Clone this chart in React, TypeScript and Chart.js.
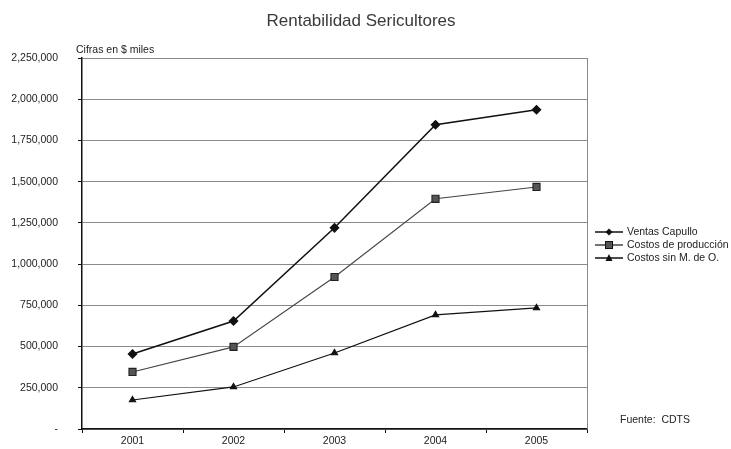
import React, { useEffect, useRef } from "react";
import { Chart, registerables } from "chart.js";

Chart.register(...registerables);

const years = ["2001", "2002", "2003", "2004", "2005"];
const ventasCapullo = [455000, 655000, 1220000, 1845000, 1936000];
const costosProduccion = [346000, 498000, 922000, 1396000, 1468000];
const costosSinMO = [176000, 255000, 461000, 692000, 734000];
const seriesNames = ["Ventas Capullo", "Costos de producción", "Costos sin M. de O."];
const titleText = "Rentabilidad Sericultores";
const unitText = "Cifras en $ miles";
const sourceText = "Fuente:  CDTS";

const FONT = "'Liberation Sans', Arial, sans-serif";

export default function App() {
  const ref = useRef<HTMLCanvasElement | null>(null);

  useEffect(() => {
    document.body.style.margin = "0";
    const canvas = ref.current!;
    const textPlugin = {
      id: "texts",
      afterDraw(chart: any) {
        const ctx = chart.ctx as CanvasRenderingContext2D;
        const area = chart.chartArea;
        ctx.save();
        ctx.fillStyle = "#3a3a3a";
        ctx.font = `17px ${FONT}`;
        ctx.textAlign = "center";
        ctx.textBaseline = "middle";
        ctx.fillText(titleText, 361, 21);
        ctx.font = `10.5px ${FONT}`;
        ctx.textAlign = "left";
        ctx.textBaseline = "alphabetic";
        ctx.fillStyle = "#222";
        ctx.fillText(unitText, area.left - 6, area.top - 5);
        ctx.textBaseline = "middle";
        ctx.font = `10.5px ${FONT}`;
        ctx.fillText(sourceText, 620, 420);
        ctx.strokeStyle = "#888";
        ctx.lineWidth = 1;
        ctx.beginPath();
        ctx.moveTo(area.right + 0.5, area.top);
        ctx.lineTo(area.right + 0.5, area.bottom);
        ctx.stroke();
        const items = chart.data.datasets;
        items.forEach((ds: any, i: number) => {
          const y = 232 + i * 13;
          ctx.strokeStyle = ds.borderColor;
          ctx.lineWidth = 1.5;
          ctx.beginPath();
          ctx.moveTo(595, y);
          ctx.lineTo(623, y);
          ctx.stroke();
          ctx.fillStyle = ds.pointBackgroundColor;
          ctx.strokeStyle = "#111";
          ctx.lineWidth = 1;
          const cx = 609;
          if (ds.pointStyle === "rectRot") {
            ctx.beginPath();
            ctx.moveTo(cx, y - 3.5);
            ctx.lineTo(cx + 3.5, y);
            ctx.lineTo(cx, y + 3.5);
            ctx.lineTo(cx - 3.5, y);
            ctx.closePath();
            ctx.fill();
          } else if (ds.pointStyle === "rect") {
            ctx.fillRect(cx - 3.5, y - 3.5, 7, 7);
            ctx.strokeRect(cx - 3.5, y - 3.5, 7, 7);
          } else {
            ctx.beginPath();
            ctx.moveTo(cx, y - 4);
            ctx.lineTo(cx + 3.5, y + 3);
            ctx.lineTo(cx - 3.5, y + 3);
            ctx.closePath();
            ctx.fill();
          }
          ctx.fillStyle = "#222";
          ctx.font = `10.5px ${FONT}`;
          ctx.textAlign = "left";
          ctx.textBaseline = "middle";
          ctx.fillText(seriesNames[i], 627, y + 0.5);
        });
        ctx.restore();
      },
    };

    const chart = new Chart(canvas, {
      type: "line",
      data: {
        labels: years,
        datasets: [
          {
            label: seriesNames[0],
            data: ventasCapullo,
            borderColor: "#111",
            borderWidth: 1.5,
            pointStyle: "rectRot",
            pointRadius: 4,
            pointBackgroundColor: "#111",
            pointBorderColor: "#111",
            tension: 0,
          },
          {
            label: seriesNames[1],
            data: costosProduccion,
            borderColor: "#444",
            borderWidth: 1.1,
            pointStyle: "rect",
            pointRadius: 5,
            pointBackgroundColor: "#555",
            pointBorderColor: "#222",
            tension: 0,
          },
          {
            label: seriesNames[2],
            data: costosSinMO,
            borderColor: "#111",
            borderWidth: 1.2,
            pointStyle: "triangle",
            pointRadius: 3.5,
            pointBackgroundColor: "#111",
            pointBorderColor: "#111",
            tension: 0,
          },
        ],
      },
      options: {
        animation: false,
        responsive: false,
        layout: { padding: { top: 58, right: 144, left: 0, bottom: 0 } },
        plugins: {
          legend: { display: false },
          title: { display: false },
          tooltip: { enabled: false },
        },
        scales: {
          x: {
            offset: true,
            afterFit(scale: any) {
              scale.height = 20;
              scale.paddingLeft = 0;
              scale.paddingRight = 0;
            },
            grid: {
              offset: true,
              drawOnChartArea: false,
              drawTicks: true,
              tickLength: 4,
              color: "#111",
            },
            border: { color: "#111", width: 1.5 },
            ticks: {
              color: "#222",
              font: { size: 10.5, family: FONT },
              padding: 2,
              maxRotation: 0,
            },
          },
          y: {
            min: 0,
            max: 2250000,
            afterFit(scale: any) {
              scale.width = 82;
              scale.paddingTop = 0;
              scale.paddingBottom = 0;
            },
            grid: {
              color: "#8a8a8a",
              lineWidth: 1,
              drawTicks: true,
              tickLength: 4,
              tickColor: "#111",
            },
            border: { color: "#111", width: 1.5 },
            ticks: {
              stepSize: 250000,
              color: "#222",
              font: { size: 10.5, family: FONT },
              padding: 20,
              callback: (v: any) => (Number(v) === 0 ? "-" : Number(v).toLocaleString("en-US")),
            },
          },
        },
      },
      plugins: [textPlugin],
    });
    return () => chart.destroy();
  }, []);

  return <canvas ref={ref} width={731} height={449} style={{ display: "block" }} />;
}
